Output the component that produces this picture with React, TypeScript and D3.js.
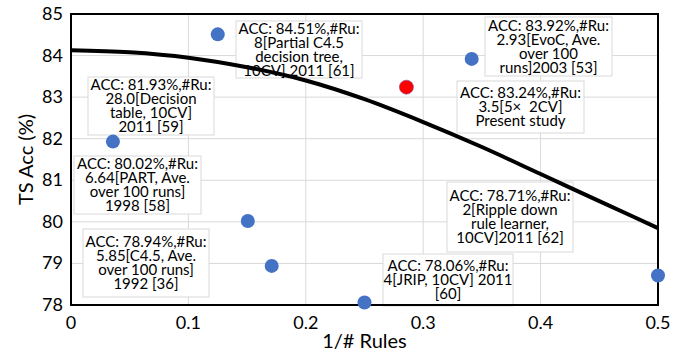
import React from "react";
import * as d3 from "d3";

// Data: x = 1/#Rules, y = TS accuracy (%)
const rulesCount = [28.0, 6.64, 5.85, 8, 4, 2.93, 3.5, 2];
const accuracy = [81.93, 80.02, 78.94, 84.51, 78.06, 83.92, 83.24, 78.71];
const isPresent = [false, false, false, false, false, false, true, false];
const labelLines: string[][] = [
  ["ACC: 81.93%,#Ru:", "28.0[Decision", "table, 10CV]", "2011 [59]"],
  ["ACC: 80.02%,#Ru:", "6.64[PART, Ave.", "over 100 runs]", "1998 [58]"],
  ["ACC: 78.94%,#Ru:", "5.85[C4.5, Ave.", "over 100 runs]", "1992 [36]"],
  ["ACC: 84.51%,#Ru:", "8[Partial C4.5", "decision tree,", "10CV] 2011 [61]"],
  ["ACC: 78.06%,#Ru:", "4[JRIP, 10CV] 2011", "[60]"],
  ["ACC: 83.92%,#Ru:", "2.93[EvoC, Ave.", "over 100", "runs]2003 [53]"],
  ["ACC: 83.24%,#Ru:", "3.5[5×  2CV]", "Present study"],
  ["ACC: 78.71%,#Ru:", "2[Ripple down", "rule learner,", "10CV]2011 [62]"],
];

// Trend curve
const trendX = [0, 0.05, 0.1, 0.15, 0.2, 0.25, 0.3, 0.35, 0.4, 0.45, 0.5];
const trendY = [84.13, 84.08, 83.95, 83.72, 83.4, 82.95, 82.4, 81.8, 81.15, 80.5, 79.85];

const xTicks = [0, 0.1, 0.2, 0.3, 0.4, 0.5];
const yTicks = [78, 79, 80, 81, 82, 83, 84, 85];

// Layout of annotation boxes (pixels): x, y, w, h
const labelBoxes: [number, number, number, number][] = [
  [88, 77, 126, 58],
  [74, 156, 127, 58],
  [83, 229, 126, 68],
  [236, 21, 126, 57],
  [383, 254, 130, 52],
  [485, 17, 127, 59],
  [457, 81, 127, 52],
  [447, 182, 126, 70],
];

const W = 681;
const H = 359;
const M = { left: 71, right: 658, top: 14, bottom: 305 };
const FONT = "Lato, 'Open Sans', sans-serif";

export default function App() {
  const x = d3.scaleLinear().domain([0, 0.5]).range([M.left, M.right]);
  const y = d3.scaleLinear().domain([78, 85]).range([M.bottom, M.top]);
  const line = d3
    .line<number>()
    .x((_, i) => x(trendX[i]))
    .y((d) => y(d))
    .curve(d3.curveMonotoneX);

  return (
    <svg
      width={W}
      height={H}
      style={{ position: "absolute", left: 0, top: 0, background: "#fff" }}
      fontFamily={FONT}
    >
      {/* grid */}
      {xTicks.map((t) => (
        <line key={"gx" + t} x1={x(t)} x2={x(t)} y1={M.top} y2={M.bottom} stroke="#d9d9d9" strokeWidth={1} />
      ))}
      {yTicks.map((t) => (
        <line key={"gy" + t} x1={M.left} x2={M.right} y1={y(t)} y2={y(t)} stroke="#d9d9d9" strokeWidth={1} />
      ))}

      {/* annotation boxes */}
      {labelLines.map((lines, i) => {
        const [bx, by, bw, bh] = labelBoxes[i];
        const cy = by + bh / 2;
        const lh = 14;
        const first = cy - ((lines.length - 1) * lh) / 2 + 5;
        return (
          <g key={"lb" + i}>
            <rect x={bx} y={by} width={bw} height={bh} fill="#fff" stroke="#d9d9d9" strokeWidth={1} />
            <text textAnchor="middle" fontSize={15} fill="#000" style={{ whiteSpace: "pre" }}>
              {lines.map((l, j) => (
                <tspan key={j} x={bx + bw / 2} y={first + j * lh}>
                  {l}
                </tspan>
              ))}
            </text>
          </g>
        );
      })}

      {/* frame */}
      <rect x={M.left} y={M.top} width={M.right - M.left} height={M.bottom - M.top} fill="none" stroke="#000" strokeWidth={2} />

      {/* trend */}
      <path d={line(trendY) || ""} fill="none" stroke="#000" strokeWidth={4} />

      {/* points */}
      {rulesCount.map((r, i) => (
        <circle
          key={"p" + i}
          cx={x(1 / r)}
          cy={y(accuracy[i])}
          r={7}
          fill={isPresent[i] ? "#ff0000" : "#4472c4"}
          stroke={isPresent[i] ? "#7a4a9a" : "none"}
          strokeWidth={0.6}
        />
      ))}

      {/* tick labels */}
      {xTicks.map((t) => (
        <text key={"tx" + t} x={x(t)} y={M.bottom + 24} textAnchor="middle" fontSize={18}>
          {t === 0 ? "0" : d3.format(".1f")(t)}
        </text>
      ))}
      {yTicks.map((t) => (
        <text key={"ty" + t} x={M.left - 8} y={y(t) + 6} textAnchor="end" fontSize={18}>
          {t}
        </text>
      ))}

      {/* axis titles */}
      <text x={(M.left + M.right) / 2} y={348} textAnchor="middle" fontSize={20}>
        1/# Rules
      </text>
      <text
        transform={`translate(33, ${(M.top + M.bottom) / 2}) rotate(-90)`}
        textAnchor="middle"
        fontSize={20}
      >
        TS Acc (%)
      </text>
    </svg>
  );
}
